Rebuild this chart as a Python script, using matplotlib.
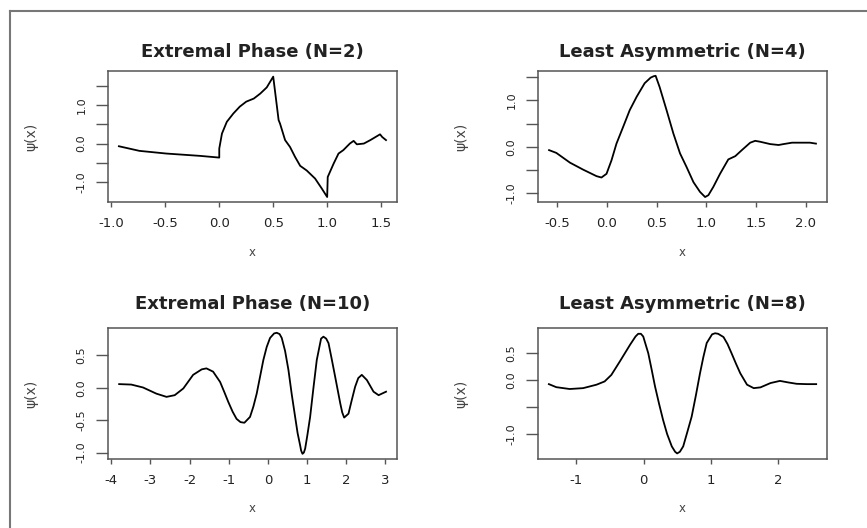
import matplotlib.pyplot as plt
from matplotlib.lines import Line2D

# ── data ──────────────────────────────────────────────────────────────────
# Extremal Phase (N=2)
ep2_x = [-0.93, -0.74, -0.49, -0.18, 0.0, 0.0, 0.025, 0.07, 0.13, 0.19, 0.25,
         0.32, 0.38, 0.44, 0.50, 0.55, 0.563, 0.61, 0.656, 0.703, 0.75, 0.81,
         0.888, 0.95, 1.0, 1.005, 1.06, 1.105, 1.15, 1.21, 1.245, 1.275, 1.34,
         1.40, 1.49, 1.51, 1.545]
ep2_y = [-0.07, -0.19, -0.26, -0.32, -0.365, -0.13, 0.26, 0.565, 0.78, 0.96, 1.09,
         1.17, 1.30, 1.46, 1.74, 0.61, 0.52, 0.09, -0.09, -0.35, -0.58, -0.70,
         -0.91, -1.17, -1.39, -0.87, -0.52, -0.26, -0.17, 0.0, 0.07, -0.02, 0.0,
         0.09, 0.24, 0.17, 0.09]

# Least Asymmetric (N=4)
la4_x = [-0.58, -0.507, -0.37, -0.238, -0.104, -0.054, -0.003, 0.047, 0.097,
         0.164, 0.23, 0.30, 0.38, 0.44, 0.47, 0.49, 0.53, 0.60, 0.668, 0.735,
         0.80, 0.87, 0.936, 0.987, 1.02, 1.07, 1.137, 1.22, 1.29, 1.356, 1.44,
         1.49, 1.54, 1.64, 1.725, 1.775, 1.86, 1.976, 2.04, 2.10]
la4_y = [-0.07, -0.13, -0.34, -0.49, -0.63, -0.66, -0.58, -0.29, 0.07,
         0.43, 0.79, 1.08, 1.37, 1.49, 1.52, 1.53, 1.29, 0.79, 0.29, -0.14,
         -0.43, -0.76, -0.97, -1.08, -1.04, -0.86, -0.58, -0.27, -0.20, -0.07, 0.09,
         0.13, 0.11, 0.06, 0.04, 0.06, 0.09, 0.09, 0.09, 0.07]

# Extremal Phase (N=10)
ep10_x = [-3.80, -3.49, -3.19, -2.85, -2.59, -2.38, -2.16, -1.91, -1.69, -1.57,
          -1.40, -1.22, -1.11, -1.01, -0.90, -0.80, -0.70, -0.60, -0.456, -0.37,
          -0.285, -0.115, -0.03, 0.056, 0.16, 0.227, 0.30, 0.355, 0.44, 0.526,
          0.61, 0.697, 0.76, 0.825, 0.85, 0.885, 0.92, 0.953, 1.01, 1.08, 1.165,
          1.25, 1.36, 1.42, 1.49, 1.55, 1.63, 1.72, 1.85, 1.90, 1.95, 2.06, 2.14,
          2.23, 2.31, 2.40, 2.53, 2.70, 2.83, 3.02]
ep10_y = [0.057, 0.05, 0.005, -0.09, -0.14, -0.114, -0.01, 0.20, 0.285, 0.30,
          0.25, 0.09, -0.07, -0.22, -0.37, -0.48, -0.53, -0.54, -0.45, -0.29,
          -0.09, 0.43, 0.63, 0.77, 0.84, 0.85, 0.83, 0.77, 0.57, 0.275,
          -0.10, -0.45, -0.70, -0.89, -0.97, -1.02, -1.0, -0.94, -0.73, -0.45, 0.0,
          0.43, 0.76, 0.79, 0.76, 0.69, 0.45, 0.17, -0.24, -0.38, -0.46, -0.40, -0.20,
          0.016, 0.15, 0.20, 0.12, -0.06, -0.114, -0.06]

# Least Asymmetric (N=8)
la8_x = [-1.41, -1.30, -1.10, -0.90, -0.70, -0.58, -0.48, -0.353, -0.20, -0.12,
         -0.08, -0.04, -0.005, 0.07, 0.12, 0.17, 0.23, 0.29, 0.35, 0.42, 0.47,
         0.50, 0.54, 0.59, 0.65, 0.716, 0.78, 0.84, 0.89, 0.94, 1.02, 1.065,
         1.11, 1.19, 1.25, 1.31, 1.375, 1.44, 1.54, 1.64, 1.74, 1.89, 2.03, 2.16,
         2.28, 2.43, 2.57]
la8_y = [-0.08, -0.136, -0.17, -0.154, -0.09, -0.03, 0.09, 0.34, 0.65, 0.80,
         0.85, 0.85, 0.80, 0.49, 0.19, -0.12, -0.44, -0.74, -1.0, -1.23, -1.33,
         -1.36, -1.33, -1.23, -0.97, -0.68, -0.28, 0.12, 0.42, 0.68, 0.84, 0.86,
         0.85, 0.79, 0.66, 0.49, 0.30, 0.12, -0.09, -0.154, -0.14, -0.06, -0.02,
         -0.05, -0.074, -0.08, -0.08]

titles = ["Extremal Phase (N=2)", "Least Asymmetric (N=4)",
          "Extremal Phase (N=10)", "Least Asymmetric (N=8)"]
xticks = [[-1.0, -0.5, 0.0, 0.5, 1.0, 1.5],
          [-0.5, 0.0, 0.5, 1.0, 1.5, 2.0],
          [-4, -3, -2, -1, 0, 1, 2, 3],
          [-1, 0, 1, 2]]
xticklabels = [["-1.0", "-0.5", "0.0", "0.5", "1.0", "1.5"],
               ["-0.5", "0.0", "0.5", "1.0", "1.5", "2.0"],
               ["-4", "-3", "-2", "-1", "0", "1", "2", "3"],
               ["-1", "0", "1", "2"]]
yticks = [[-1.0, -0.5, 0.0, 0.5, 1.0, 1.5],
          [-1.0, -0.5, 0.0, 0.5, 1.0, 1.5],
          [-1.0, -0.5, 0.0, 0.5],
          [-1.0, -0.5, 0.0, 0.5]]
yticklabels = [["-1.0", "", "0.0", "", "1.0", ""],
               ["-1.0", "", "0.0", "", "1.0", ""],
               ["-1.0", "-0.5", "0.0", "0.5"],
               ["-1.0", "", "0.0", "0.5"]]
xlims = [(-1.031, 1.647), (-0.691, 2.211), (-4.085, 3.30), (-1.572, 2.731)]
ylims = [(-1.52, 1.887), (-1.187, 1.633), (-1.10, 0.924), (-1.463, 0.957)]

series = [(ep2_x, ep2_y), (la4_x, la4_y), (ep10_x, ep10_y), (la8_x, la8_y)]

# ── layout (pixel boxes of the reference) ─────────────────────────────────
W, H = 867, 528
boxes = [(108, 71, 397, 202), (538, 71, 827, 202),
         (108, 328, 397, 459), (538, 328, 827, 459)]
title_pads = [10, 10, 14, 14]

fig = plt.figure(figsize=(W / 100, H / 100), dpi=100)
plt.rcParams["font.family"] = ["DejaVu Sans"]

grey = "#555555"
txt = "#222222"

for i, (l, t, r, b) in enumerate(boxes):
    ax = fig.add_axes([l / W, 1 - b / H, (r - l) / W, (b - t) / H])
    x, y = series[i]
    ax.plot(x, y, color="black", lw=1.3)
    ax.set_xlim(*xlims[i])
    ax.set_ylim(*ylims[i])
    ax.set_xticks(xticks[i])
    ax.set_xticklabels(xticklabels[i], fontsize=9.5, color=txt)
    ax.set_yticks(yticks[i])
    ax.set_yticklabels(yticklabels[i], fontsize=8, color=txt,
                       rotation=90, va="center")
    ax.tick_params(axis="x", length=3.6, width=1.0, color=grey, pad=7)
    ax.tick_params(axis="y", length=8.6, width=1.0, color=grey, pad=7)
    for sp in ax.spines.values():
        sp.set_color(grey)
        sp.set_linewidth(1.1)
    ax.set_title(titles[i], fontsize=13, fontweight="bold", color=txt,
                 pad=title_pads[i])
    ax.set_xlabel("x", fontsize=8.5, color="#444444")
    ax.xaxis.set_label_coords(0.5, -50 / (b - t), transform=ax.transAxes)
    ax.xaxis.label.set_va("center")
    ax.set_ylabel("ψ(x)", fontsize=10, color="#444444", va="center")
    ax.yaxis.set_label_coords(-77 / (r - l), 0.5)

# outer frame, partly cut off at right and bottom
fig.add_artist(Line2D([9.5 / W, 9.5 / W], [0, 1 - 10.5 / H],
                      transform=fig.transFigure, color="#777777", lw=1.5))
fig.add_artist(Line2D([9.5 / W, 1], [1 - 10.5 / H, 1 - 10.5 / H],
                      transform=fig.transFigure, color="#777777", lw=1.5))

fig.savefig("out.png", dpi=100)
